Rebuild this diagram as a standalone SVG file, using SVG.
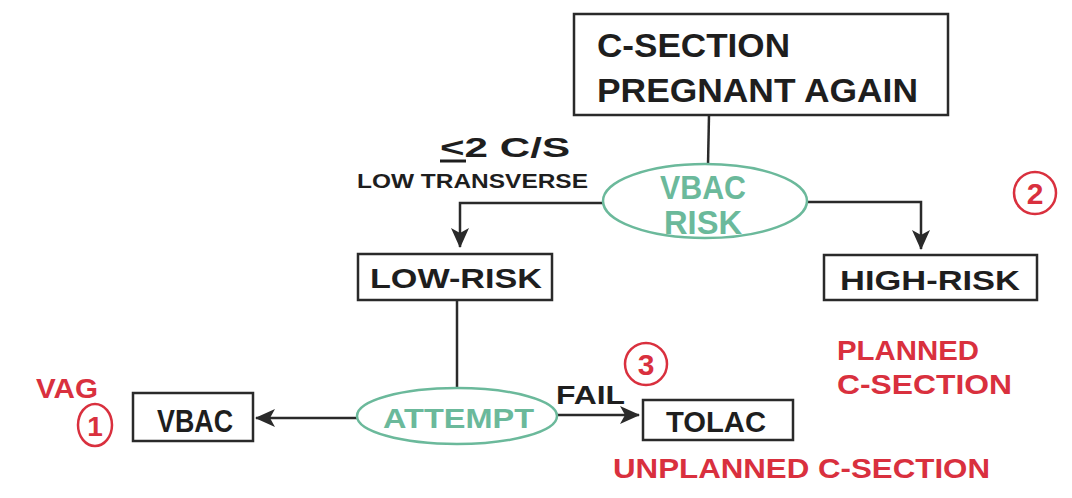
<svg xmlns="http://www.w3.org/2000/svg" width="1072" height="498" viewBox="0 0 1072 498">
<style>
.box{fill:#fff;stroke:#2a2a2a;stroke-width:2.5}
.oval{fill:#fff;stroke:#6bb99b;stroke-width:2.5}
.t{font-family:"Liberation Sans",Arial,sans-serif;font-weight:bold;fill:#1e1e1e}
.g{font-family:"Liberation Sans",Arial,sans-serif;font-weight:bold;fill:#6bb99b}
.r{font-family:"Liberation Sans",Arial,sans-serif;font-weight:bold;fill:#d9303e}
.ring{fill:none;stroke:#d9303e;stroke-width:2.5}
.c{fill:none;stroke:#2a2a2a;stroke-width:2.5}
</style>
<defs>
<marker id="ah" viewBox="0 0 20 18" refX="19" refY="9" markerWidth="20" markerHeight="18" markerUnits="userSpaceOnUse" orient="auto">
<path d="M0,0 L20,9 L0,18 L5,9 Z" fill="#2a2a2a"/>
</marker>
</defs>
<rect width="1072" height="498" fill="#fff"/>
<g id="connectors">
<line class="c" x1="709" y1="115" x2="708" y2="165"/>
<path class="c" d="M603,203 H460 V247" marker-end="url(#ah)"/>
<path class="c" d="M808,202 H921 V249" marker-end="url(#ah)"/>
<line class="c" x1="457" y1="300" x2="457" y2="389"/>
<line class="c" x1="357" y1="418" x2="256" y2="418" marker-end="url(#ah)"/>
<line class="c" x1="557" y1="415" x2="639" y2="415" marker-end="url(#ah)"/>
</g>
<g id="node-top">
<rect class="box" x="574" y="14" width="374" height="101"/>
<text class="t" x="597" y="57" font-size="33" textLength="193" lengthAdjust="spacingAndGlyphs">C-SECTION</text>
<text class="t" x="597" y="102" font-size="33" textLength="321" lengthAdjust="spacingAndGlyphs">PREGNANT AGAIN</text>
</g>
<g id="label-low">
<text class="t" x="440" y="157" font-size="27" textLength="130" lengthAdjust="spacingAndGlyphs">&lt;2 C/S</text>
<line x1="440" y1="161" x2="466" y2="161" stroke="#1e1e1e" stroke-width="3"/>
<text class="t" x="357" y="188" font-size="20" textLength="231" lengthAdjust="spacingAndGlyphs">LOW TRANSVERSE</text>
</g>
<g id="node-vbac-risk">
<ellipse class="oval" cx="705" cy="201" rx="102" ry="37"/>
<text class="g" x="703" y="199" font-size="33" text-anchor="middle" textLength="86" lengthAdjust="spacingAndGlyphs">VBAC</text>
<text class="g" x="703" y="234" font-size="33" text-anchor="middle" textLength="78" lengthAdjust="spacingAndGlyphs">RISK</text>
</g>
<g id="node-low-risk">
<rect class="box" x="358" y="254" width="194" height="46"/>
<text class="t" x="370" y="288" font-size="28" textLength="172" lengthAdjust="spacingAndGlyphs">LOW-RISK</text>
</g>
<g id="node-high-risk">
<rect class="box" x="824" y="255" width="213" height="45"/>
<text class="t" x="840" y="290" font-size="28" textLength="180" lengthAdjust="spacingAndGlyphs">HIGH-RISK</text>
</g>
<g id="node-attempt">
<ellipse class="oval" cx="457" cy="416" rx="100" ry="28"/>
<text class="g" x="383" y="428" font-size="28" textLength="151" lengthAdjust="spacingAndGlyphs">ATTEMPT</text>
</g>
<g id="node-vbac">
<rect class="box" x="133" y="393" width="120" height="48"/>
<text class="t" x="157" y="432" font-size="31" textLength="76" lengthAdjust="spacingAndGlyphs">VBAC</text>
</g>
<g id="node-tolac">
<rect class="box" x="643" y="400" width="150" height="40"/>
<text class="t" x="666" y="432" font-size="29" textLength="100" lengthAdjust="spacingAndGlyphs">TOLAC</text>
</g>
<g id="label-fail">
<text class="t" x="556" y="404" font-size="26" textLength="69" lengthAdjust="spacingAndGlyphs">FAIL</text>
</g>
<g id="annotations">
<text class="r" x="36" y="398" font-size="28" textLength="62" lengthAdjust="spacingAndGlyphs">VAG</text>
<ellipse class="ring" cx="95" cy="425" rx="17" ry="21"/>
<text class="r" x="95" y="436" font-size="28" text-anchor="middle">1</text>
<circle class="ring" cx="1035" cy="193" r="21"/>
<text class="r" x="1035" y="204" font-size="30" text-anchor="middle">2</text>
<circle class="ring" cx="646" cy="364" r="21"/>
<text class="r" x="646" y="375" font-size="30" text-anchor="middle">3</text>
<text class="r" x="837" y="360" font-size="28" textLength="142" lengthAdjust="spacingAndGlyphs">PLANNED</text>
<text class="r" x="837" y="394" font-size="28" textLength="175" lengthAdjust="spacingAndGlyphs">C-SECTION</text>
<text class="r" x="613" y="478" font-size="28" textLength="377" lengthAdjust="spacingAndGlyphs">UNPLANNED C-SECTION</text>
</g>
</svg>
